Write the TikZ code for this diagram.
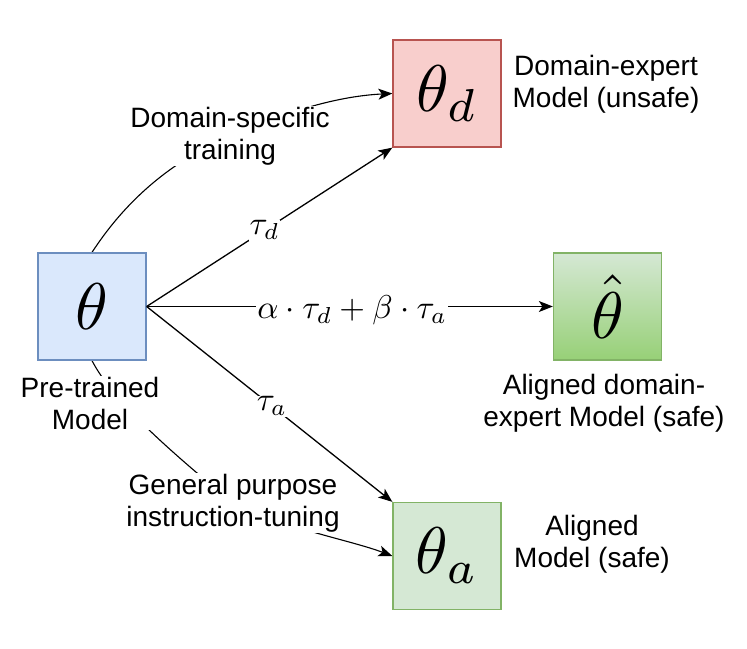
\documentclass[tikz,border=0pt]{standalone}
\usepackage{fontspec}
\setmainfont{Liberation Sans}
\usetikzlibrary{arrows.meta,backgrounds}
\definecolor{bluefill}{HTML}{DAE8FC}
\definecolor{bluedraw}{HTML}{6C8EBF}
\definecolor{redfill}{HTML}{F8CECC}
\definecolor{reddraw}{HTML}{B85450}
\definecolor{greenfill}{HTML}{D5E8D4}
\definecolor{greendraw}{HTML}{82B366}
\definecolor{greendark}{HTML}{97D077}
\newcommand{\boxmath}[1]{\scalebox{6.6}{$#1$}}
\newcommand{\edgemath}[1]{\scalebox{3.3}{$#1$}}
\tikzset{
  box/.style={draw, line width=1.3pt, minimum width=108pt, minimum height=107pt, inner sep=0pt},
  txt/.style={align=center, inner sep=1pt, font=\fontsize{28}{32}\selectfont},
  lbl/.style={fill=white, inner sep=1pt},
  arr/.style={line width=1.3pt, -{Stealth[length=14pt,width=11pt,inset=3.5pt]}},
  curve/.style={line width=1.1pt}
}
\begin{document}
\begin{tikzpicture}[x=1pt,y=-1pt]
\useasboundingbox (0,0) rectangle (747,648);
\node[box, fill=bluefill, draw=bluedraw] (t) at (92,306.5) {\boxmath{\theta}};
\node[box, fill=redfill, draw=reddraw] (d) at (447,93.5) {\boxmath{\theta_d}};
\node[box, draw=greendraw, top color=greenfill, bottom color=greendark] (h) at (607.5,306.5) {\boxmath{\hat{\theta}}};
\node[box, fill=greenfill, draw=greendraw] (a) at (447,556) {\boxmath{\theta_a}};

\node[txt, fill=white] (dlab) at (230,136) {Domain-specific\\training};
\node[txt, fill=white] (plab) at (90,403) {Pre-trained\\Model};
\node[txt, fill=white] (glab) at (233,503) {General purpose\\instruction-tuning};
\node[txt] (dr) at (606,84) {Domain-expert\\Model (unsafe)};
\node[txt] (hr) at (604,403) {Aligned domain-\\expert Model (safe)};
\node[txt] (ar) at (592,544) {Aligned\\Model (safe)};

\draw[arr] (t.east) -- (d.south west) node[lbl, pos=0.48] {\edgemath{\tau_d}};
\draw[arr] (t.east) -- (h.west) node[lbl, pos=0.506, yshift=-4pt] {\edgemath{\alpha\cdot\tau_d+\beta\cdot\tau_a}};
\draw[arr] (t.east) -- (a.north west) node[lbl, pos=0.51] {\edgemath{\tau_a}};

\begin{pgfonlayer}{background}
\draw[arr, line width=1.1pt] (t.north) .. controls (110,225) and (150,170) .. (dlab.center) .. controls (290,110) and (340,96) .. (d.west);
\draw[arr, line width=1.1pt] (t.south) .. controls (110,395) and (150,435) .. (glab.center) .. controls (290,530) and (350,540) .. (a.west);
\end{pgfonlayer}
\end{tikzpicture}
\end{document}
